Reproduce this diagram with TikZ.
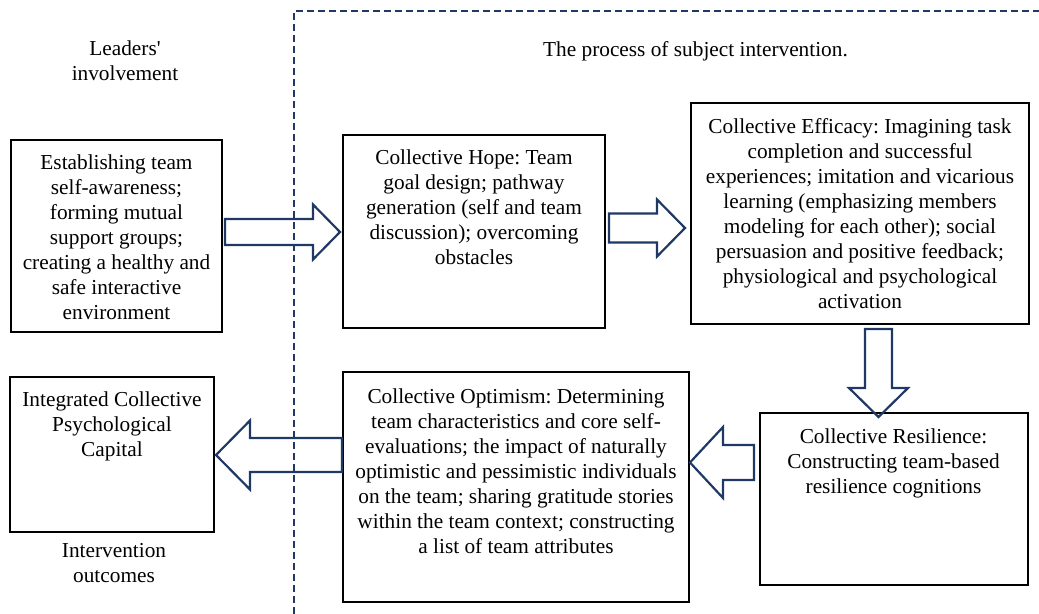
\documentclass[tikz,border=0pt]{standalone}
\usepackage{fontspec}
\setmainfont{Liberation Serif}
\usetikzlibrary{calc}
\definecolor{navy}{HTML}{1F3864}
\frenchspacing

% Hollow block arrow: #1 tail, #2 tip, #3 head length, #4 half body width, #5 half head width
\newcommand\blockarrow[5]{%
  \coordinate (ba-base) at ($(#2)!#3!(#1)$);
  \draw[fat] ($(#1)!#4!90:(#2)$) -- ($(ba-base)!#4!90:(#2)$) -- ($(ba-base)!#5!90:(#2)$)
    -- (#2) -- ($(ba-base)!#5!-90:(#2)$) -- ($(ba-base)!#4!-90:(#2)$)
    -- ($(#1)!#4!-90:(#2)$) -- cycle;
}
% fixed-height strut on the first line, so a node's north edge sits 17bp above its first baseline
\newcommand\firstline{\rule{0pt}{17bp}}

\tikzset{
  box/.style={draw=black, line width=2bp, inner sep=0pt},
  txt/.style={align=center, inner sep=0pt, anchor=north,
              font=\fontsize{21.3bp}{25bp}\selectfont},
  fat/.style={draw=navy, line width=2.2bp, line join=miter},
  dashline/.style={draw=navy, line width=1.8bp, dash pattern=on 7bp off 4bp},
}

\begin{document}
\begin{tikzpicture}[x=1bp, y=-1bp]
\useasboundingbox (0,0) rectangle (1039,614);

% separator between leaders' involvement and the intervention process
\draw[dashline] (294,614) -- (294,11) -- (1039,11);

% section headings (node north = first baseline - 17)
\node[txt] (hdrlead) at (125,38) {\firstline Leaders\textquotesingle\\involvement};
\node[txt] (hdrproc) at (695.5,39) {\firstline The process of subject intervention.};
\node[txt] (hdrout)  at (114,540) {\firstline Intervention\\outcomes};

% boxes
\node[box, minimum width=211, minimum height=192] (lead) at (116.5,236) {};
\node[box, minimum width=262, minimum height=193] (hope) at (474,231.5) {};
\node[box, minimum width=340, minimum height=221] (eff)  at (860,213.5) {};
\node[box, minimum width=269, minimum height=172] (res)  at (893.5,499) {};
\node[box, minimum width=348, minimum height=230] (opt)  at (516,487) {};
\node[box, minimum width=204, minimum height=155] (icp)  at (112,454.5) {};

% box texts
\node[txt] (leadtxt) at ([yshift=-13bp]lead.north) {\firstline Establishing team\\self-awareness;\\forming mutual\\support groups;\\creating a healthy and\\safe interactive\\environment};
\node[txt] (hopetxt) at ([yshift=-13bp]hope.north) {\firstline Collective Hope: Team\\goal design; pathway\\generation (self and team\\discussion); overcoming\\obstacles};
\node[txt] (efftxt) at ([yshift=-14bp]eff.north) {\firstline Collective Efficacy: Imagining task\\completion and successful\\experiences; imitation and vicarious\\learning (emphasizing members\\modeling for each other); social\\persuasion and positive feedback;\\physiological and psychological\\activation};
\node[txt] (restxt) at ([yshift=-14bp]res.north) {\firstline Collective Resilience:\\Constructing team-based\\resilience cognitions};
\node[txt] (opttxt) at ([yshift=-15bp]opt.north) {\firstline Collective Optimism: Determining\\team characteristics and core self-\\evaluations; the impact of naturally\\optimistic and pessimistic individuals\\on the team; sharing gratitude stories\\within the team context; constructing\\a list of team attributes};
\node[txt] (icptxt) at ([yshift=-13bp]icp.north) {\firstline Integrated Collective\\Psychological\\Capital};

% arrow end points
\coordinate (a1t) at (225,232);   \coordinate (a1h) at (340,232);
\coordinate (a2t) at (609,228);   \coordinate (a2h) at (685,228);
\coordinate (a3t) at (878.5,329); \coordinate (a3h) at (878.5,417);
\coordinate (a4t) at (754,462.5); \coordinate (a4h) at (690,462.5);
\coordinate (a5t) at (342,455);   \coordinate (a5h) at (216,455);

% hollow block arrows between stages
\blockarrow{a1t}{a1h}{27bp}{13bp}{27.5bp}
\blockarrow{a2t}{a2h}{28bp}{14.5bp}{28.5bp}
\blockarrow{a3t}{a3h}{29bp}{13.5bp}{29.5bp}
\blockarrow{a4t}{a4h}{33bp}{17.5bp}{35.5bp}
\blockarrow{a5t}{a5h}{34bp}{17bp}{34.5bp}
\end{tikzpicture}
\end{document}
